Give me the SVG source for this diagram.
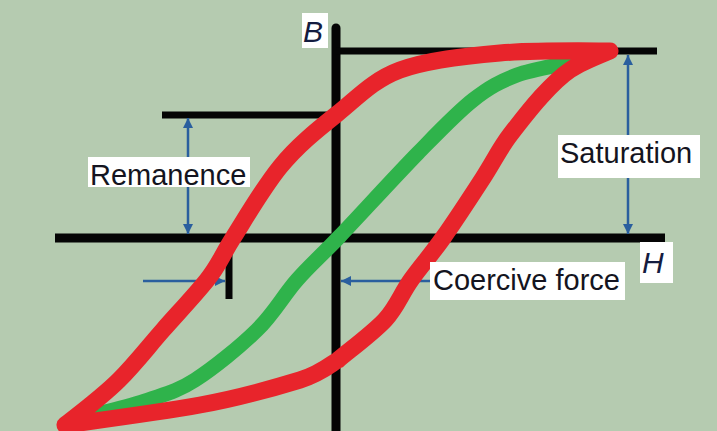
<svg xmlns="http://www.w3.org/2000/svg" width="717" height="431" viewBox="0 0 717 431">
  <style>
    .axis { stroke: #050505; stroke-width: 9; fill: none; }
    .guide { stroke: #050505; stroke-width: 7; fill: none; }
    .dim { stroke: #2a5f9e; stroke-width: 2.5; fill: none; }
    .box { fill: #ffffff; }
    .lbl { font-family: "Liberation Sans", Arial, sans-serif; font-size: 29px; fill: #141420; }
    .sym { font-family: "Liberation Sans", Arial, sans-serif; font-size: 30px; font-style: italic; fill: #141c40; }
    .red { stroke: #e8242b; stroke-width: 17; fill: none; stroke-linejoin: round; stroke-linecap: round; }
    .green { stroke: #2fb34b; stroke-width: 15; fill: none; stroke-linecap: round; }
  </style>
  <defs>
    <marker id="ah" viewBox="0 0 10 10" refX="10" refY="5" markerWidth="11" markerHeight="10" markerUnits="userSpaceOnUse" orient="auto-start-reverse">
      <path d="M0,0 L10,5 L0,10 z" fill="#2a5f9e"/>
    </marker>
  </defs>
  <rect width="717" height="431" fill="#b5cbb0"/>

  <g id="axes">
    <line id="b-axis" class="axis" x1="336" y1="28" x2="336" y2="431" stroke-linecap="round"/>
    <line id="h-axis" class="axis" x1="55" y1="238" x2="665" y2="238"/>
    <line id="saturation-line" class="guide" x1="336" y1="51" x2="657" y2="51"/>
    <line id="remanence-line" class="guide" x1="162" y1="115" x2="336" y2="115"/>
    <line id="coercive-tick" class="guide" x1="229" y1="238" x2="229" y2="299" stroke-width="6"/>
  </g>

  <g id="connectors">
    <line class="dim" x1="188" y1="118" x2="188" y2="234" marker-start="url(#ah)" marker-end="url(#ah)"/>
    <line class="dim" x1="628" y1="55" x2="628" y2="234" marker-start="url(#ah)" marker-end="url(#ah)"/>
    <line class="dim" x1="143" y1="281" x2="225" y2="281" marker-end="url(#ah)"/>
    <line class="dim" x1="432" y1="281" x2="341" y2="281" marker-end="url(#ah)"/>
  </g>

  <g id="initial-curve">
    <path class="green" d="M97,414 C105.5,411.7 131.7,405.7 148,400 C164.3,394.3 176.8,391.7 195,380 C213.2,368.3 240,346.7 257,330 C274,313.3 283.2,295.7 297,280 C310.8,264.3 319.8,257.2 340,236 C360.2,214.8 395.8,175.7 418,153 C440.2,130.3 456.5,113 473,100 C489.5,87 500.5,81.3 517,75 C533.5,68.7 562.8,64.8 572,62"/>
  </g>

  <g id="hysteresis-loop">
    <path class="red" d="M610,51 C592,51 535,50 500,53 C465,56 427,60 400,70 C373,80 357,98 337,114 C317,130 297,146 280,167 C263,188 245,219 233,238 C221,257 219,265 207,280 C195,295 178,313 163,330 C148,347 135,364 119,380 C103,396 74,418 65,425 C87,422 161,412 200,405 C239,398 277,387 300,380 C323,372.5 332,363 338,360 C346,353 373,333 385,320 C397,307 401,294 411,280 C421,266 431,255 443,238 C455,221 472,195 483,178 C494,161 500,148 510,135 C520,122 530,109 540,98 C550,87 558,78 570,70 C582,62 603,54 610,51 Z"/>
  </g>

  <g id="label-b">
    <rect class="box" x="302" y="13" width="26" height="35"/>
    <text class="sym" x="303" y="42">B</text>
  </g>
  <g id="label-h">
    <rect class="box" x="640" y="242" width="33" height="41"/>
    <text class="sym" x="642" y="273">H</text>
  </g>
  <g id="label-remanence">
    <rect class="box" x="88" y="157" width="162" height="30"/>
    <text class="lbl" x="90" y="185">Remanence</text>
  </g>
  <g id="label-saturation">
    <rect class="box" x="558" y="135" width="142" height="43"/>
    <text class="lbl" x="560" y="163">Saturation</text>
  </g>
  <g id="label-coercive">
    <rect class="box" x="430" y="262" width="195" height="38"/>
    <text class="lbl" x="433" y="290">Coercive force</text>
  </g>
</svg>
